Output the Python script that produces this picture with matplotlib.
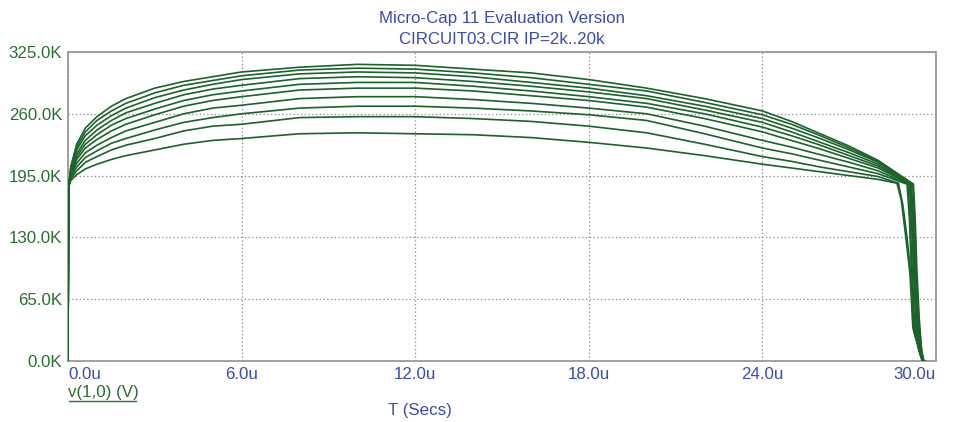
import matplotlib
matplotlib.use('Agg')
import matplotlib.pyplot as plt
import numpy as np

plt.rcParams['font.family'] = ['Liberation Sans', 'DejaVu Sans']

# common time grid (us) for the rising/plateau part of every sweep
t_main = [0, 0.02, 0.1, 0.3, 0.6, 1, 1.5, 2, 3, 4, 5, 6, 8, 10, 12, 14, 16, 18, 20, 22, 24, 25, 26, 27, 28]

# v(1,0) in kV for IP = 2k .. 20k
v_main = [
    [0, 183, 190, 196, 202, 207, 212, 216, 222, 228, 232, 234, 239, 240, 239, 238, 235, 230, 224, 216, 207, 203, 199, 195, 191],
    [0, 183, 192, 200, 209, 215, 222, 227, 234, 242, 247, 249, 256, 257, 257, 255, 252, 247, 240, 228, 215, 210, 204, 199, 194],
    [0, 183, 194, 204, 214, 221, 229, 234, 243, 251, 256, 260, 266, 268, 268, 266, 263, 259, 253, 239, 224, 218, 211, 204, 197],
    [0, 183, 196, 208, 219, 227, 235, 242, 251, 260, 266, 269, 276, 278, 278, 275, 271, 266, 260, 247, 232, 225, 217, 209, 200],
    [0, 183, 197, 212, 224, 233, 242, 249, 259, 268, 274, 278, 285, 287, 287, 284, 279, 274, 267, 255, 241, 232, 223, 213, 203],
    [0, 183, 199, 215, 228, 238, 248, 255, 265, 274, 280, 284, 291, 293, 293, 289, 284, 278, 271, 260, 246, 237, 227, 216, 205],
    [0, 183, 201, 218, 232, 243, 253, 261, 271, 280, 286, 290, 297, 299, 298, 294, 289, 283, 276, 264, 251, 241, 230, 219, 207],
    [0, 183, 202, 222, 237, 248, 258, 266, 277, 285, 291, 296, 302, 304, 303, 299, 293, 287, 279, 268, 255, 245, 234, 222, 209],
    [0, 183, 204, 225, 241, 253, 263, 271, 282, 290, 295, 300, 306, 308, 307, 303, 298, 291, 284, 272, 259, 249, 237, 224, 210],
    [0, 183, 205, 228, 245, 257, 268, 276, 287, 294, 299, 304, 309, 312, 311, 307, 303, 296, 287, 276, 263, 252, 239, 226, 211],
]

# collapse at the end of the pulse, one tail per sweep
t_tail = [
    [28.65, 28.8, 28.93, 29.1, 29.2, 29.45, 29.6],
    [28.7, 28.85, 29.0, 29.15, 29.25, 29.48, 29.6],
    [29.0, 29.08, 29.15, 29.22, 29.4, 29.52, 29.6],
    [29.03, 29.1, 29.18, 29.25, 29.42, 29.53, 29.6],
    [29.08, 29.15, 29.22, 29.3, 29.45, 29.54, 29.6],
    [29.1, 29.17, 29.24, 29.32, 29.46, 29.55, 29.6],
    [29.13, 29.2, 29.27, 29.35, 29.47, 29.55, 29.6],
    [29.15, 29.22, 29.29, 29.37, 29.48, 29.56, 29.6],
    [29.2, 29.26, 29.32, 29.4, 29.5, 29.57, 29.6],
    [29.22, 29.28, 29.34, 29.42, 29.5, 29.57, 29.6],
]
v_tail = [
    [187, 169, 137, 92, 35, 7, 0],
    [187, 165, 130, 85, 30, 5, 0],
    [186, 150, 95, 45, 12, 0, 0],
    [186, 150, 95, 45, 12, 0, 0],
    [186, 150, 95, 45, 12, 0, 0],
    [186, 150, 95, 45, 12, 0, 0],
    [186, 150, 95, 45, 12, 0, 0],
    [186, 150, 95, 45, 12, 0, 0],
    [186, 150, 95, 45, 12, 0, 0],
    [186, 150, 95, 45, 12, 0, 0],
]

x_ticks = [0, 6, 12, 18, 24, 30]
x_labels = ['0.0u', '6.0u', '12.0u', '18.0u', '24.0u', '30.0u']
y_ticks = [0, 65, 130, 195, 260, 325]
y_labels = ['0.0K', '65.0K', '130.0K', '195.0K', '260.0K', '325.0K']

blue = '#3b4cad'
green = '#2b6e31'
trace = '#1b622b'
fs = 12.2

W, H = 958, 422
fig = plt.figure(figsize=(W / 100, H / 100), dpi=100)
ax = fig.add_axes([68 / W, 1 - 361 / H, (936 - 68) / W, (361 - 52) / H])

for i in range(len(v_main)):
    t = t_main + t_tail[i]
    v = v_main[i] + v_tail[i]
    ax.plot(t, v, color=trace, lw=1.2, solid_joinstyle='miter', zorder=3)

ax.set_xlim(0, 30)
ax.set_ylim(0, 325)
ax.set_xticks(x_ticks)
ax.set_yticks(y_ticks)
ax.set_xticklabels(x_labels, color=blue, fontsize=fs)
ax.set_yticklabels(y_labels, color=green, fontsize=fs)
ax.tick_params(length=0, pad=4)
ax.tick_params(axis='x', pad=4)
xl = ax.get_xticklabels()
xl[0].set_ha('left')
xl[-1].set_ha('right')

ax.grid(True, color='#8a8a8a', linestyle=(0, (1, 2)), linewidth=0.9)
for s in ax.spines.values():
    s.set_color('#9a9a9a')
    s.set_linewidth(1.3)

fig.text(502 / W, 1 - 18 / H, 'Micro-Cap 11 Evaluation Version', color=blue,
         fontsize=fs, ha='center', va='center')
fig.text(502 / W, 1 - 40 / H, 'CIRCUIT03.CIR IP=2k..20k', color=blue,
         fontsize=fs, ha='center', va='center')
fig.text(68 / W, 1 - 393 / H, 'v(1,0) (V)', color=green, fontsize=fs,
         ha='left', va='center')
fig.add_artist(plt.Line2D([69 / W, 136 / W], [1 - 401 / H, 1 - 401 / H], color=green, lw=1))
fig.text(420 / W, 1 - 410 / H, 'T (Secs)', color=blue, fontsize=fs,
         ha='center', va='center')

fig.savefig('out.png', dpi=100)
